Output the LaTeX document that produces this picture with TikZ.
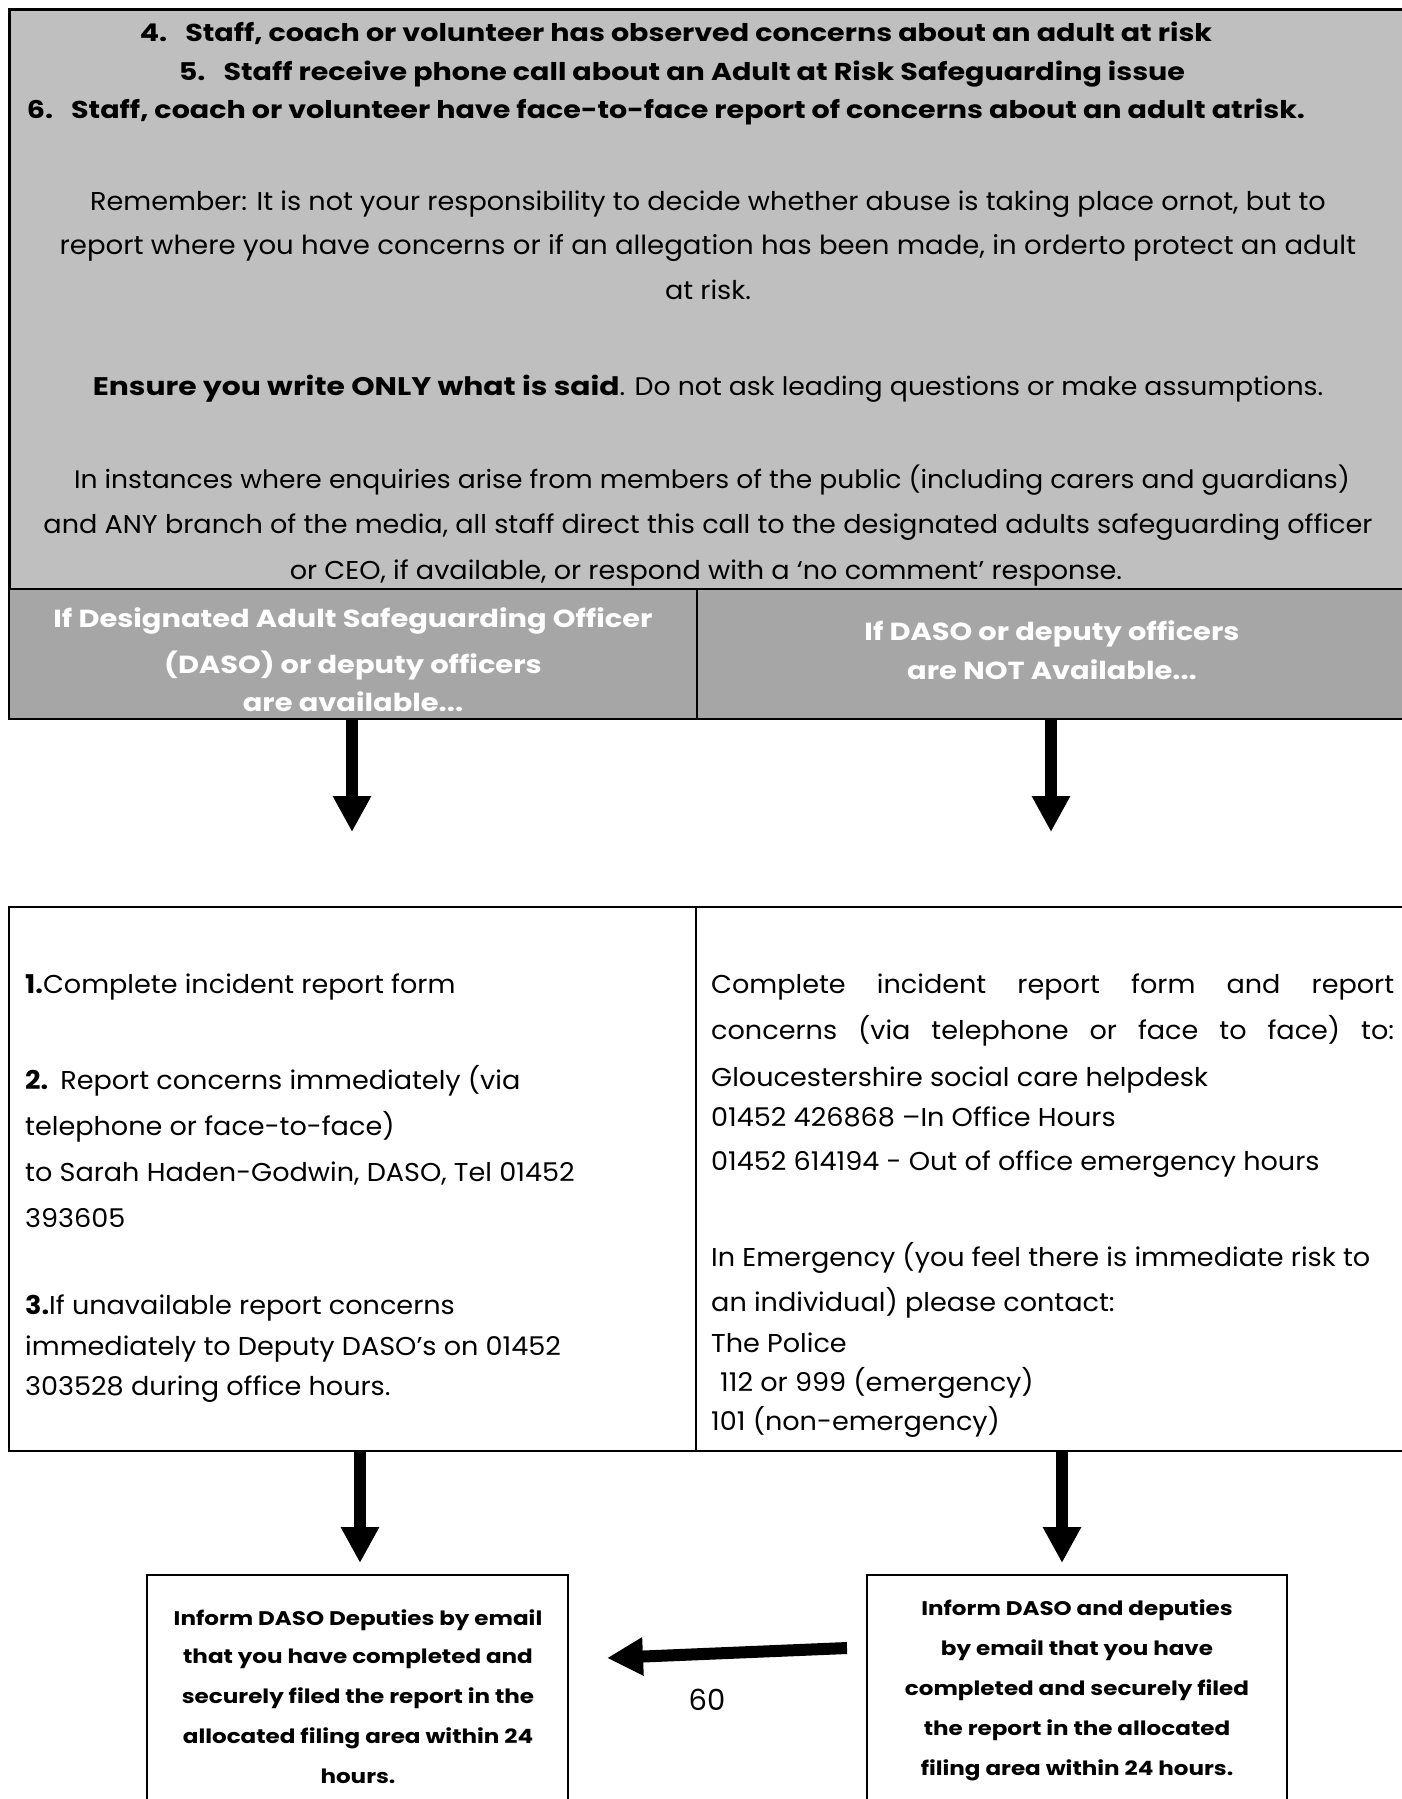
\documentclass[tikz,border=0pt]{standalone}
\usepackage{fontspec}
\setmainfont{Poppins}[FakeStretch=1.05]
\newfontfamily\bfam{Poppins}[FakeStretch=1.17]
\newfontfamily\plainfam{Poppins}
\usetikzlibrary{arrows.meta}
\definecolor{lgray}{RGB}{191,191,191}
\definecolor{dgray}{RGB}{166,166,166}
\begin{document}
\begin{tikzpicture}[x=1pt,y=-1pt,
  box/.style={draw=black, inner sep=0pt, outer sep=0pt, anchor=north west},
  tb/.style={inner sep=0pt, anchor=base, font=\fontsize{24.4}{24.4}\bfam\bfseries},
  tr/.style={inner sep=0pt, anchor=base, font=\fontsize{25.8}{25.8}\selectfont},
  hd/.style={inner sep=0pt, anchor=base, text=white, font=\fontsize{24.7}{24.7}\bfam\bfseries},
  ml/.style={inner sep=0pt, anchor=base west, font=\fontsize{25.8}{25.8}\selectfont},
  bb/.style={inner sep=0pt, anchor=base, font=\fontsize{19.7}{19.7}\bfam\bfseries},
  bigarrow/.style={line width=12pt, -{Triangle[width=36pt,length=36pt]}}
]
\useasboundingbox (0,0) rectangle (1401,1799);
\fill[white] (0,0) rectangle (1401,1799);

% boxes
\node[box, fill=lgray, line width=3pt, minimum width=1400pt, minimum height=580pt] (top) at (9,9) {};
\node[box, fill=dgray, line width=2pt, minimum width=688pt, minimum height=130pt] (hL) at (9,589) {};
\node[box, fill=dgray, line width=2pt, minimum width=712pt, minimum height=130pt] (hR) at (697,589) {};
\node[box, line width=2pt, minimum width=687pt, minimum height=544pt] (mL) at (9,907) {};
\node[box, line width=2pt, minimum width=713pt, minimum height=544pt] (mR) at (696,907) {};
\node[box, line width=1.5pt, minimum width=421pt, minimum height=240pt] (bL) at (147,1575) {};
\node[box, line width=1.5pt, minimum width=420pt, minimum height=240pt] (bR) at (867,1575) {};

% top texts
\node[tb] (t1) at (676,41) {4.\hspace{18pt}Staff, coach or volunteer has observed concerns about an adult at risk};
\node[tb] (t2) at (682,80) {5.\hspace{18pt}Staff receive phone call about an Adult at Risk Safeguarding issue};
\node[tb] (t3) at (666,118) {6.\hspace{18pt}Staff, coach or volunteer have face-to-face report of concerns about an adult atrisk.};
\node[tr] (r1) at (708,210) {Remember: It is not your responsibility to decide whether abuse is taking place ornot, but to};
\node[tr, font=\fontsize{26.25}{26.25}\selectfont] (r2) at (708,254) {report where you have concerns or if an allegation has been made, in orderto protect an adult};
\node[tr] (r3) at (708,299) {at risk.};
\node[tr, font=\fontsize{25.45}{25.45}\selectfont] (e1) at (708,395) {{\bfam\bfseries Ensure you write ONLY what is said}. Do not ask leading questions or make assumptions.};
\node[tr, font=\fontsize{25.3}{25.3}\selectfont] (i1) at (712,488) {In instances where enquiries arise from members of the public (including carers and guardians)};
\node[tr] (i2) at (708,533) {and ANY branch of the media, all staff direct this call to the designated adults safeguarding officer};
\node[tr] (i3) at (706,579) {or CEO, if available, or respond with a ‘no comment’ response.};

% header texts
\node[hd] (h1) at (353,627) {If Designated Adult Safeguarding Officer};
\node[hd] (h2) at (353,673) {(DASO) or deputy officers};
\node[hd] (h3) at (353,711) {are available...};
\node[hd] (h4) at (1052,640) {If DASO or deputy officers};
\node[hd] (h5) at (1052,679) {are NOT Available...};

% middle left
\node[ml] (l1) at (25,993) {\textbf{1.}Complete incident report form};
\node[ml] (l2) at (25,1089) {\textbf{2.}\hspace{12pt}Report concerns immediately (via};
\node[ml] (l3) at (25,1135) {telephone or face-to-face)};
\node[ml] (l4) at (25,1181) {to Sarah Haden-Godwin, DASO, Tel 01452};
\node[ml] (l5) at (25,1227) {393605};
\node[ml] (l6) at (25,1314) {\textbf{3.}If unavailable report concerns};
\node[ml] (l7) at (25,1355) {immediately to Deputy DASO’s on 01452};
\node[ml] (l8) at (25,1395) {303528 during office hours.};

% middle right
\node[ml] (p1) at (711,993) {\makebox[683pt][s]{Complete incident report form and report}};
\node[ml] (p2) at (711,1039) {\makebox[683pt][s]{concerns (via telephone or face to face) to:}};
\node[ml] (p3) at (711,1086) {Gloucestershire social care helpdesk};
\node[ml] (p4) at (711,1126) {01452 426868 –In Office Hours};
\node[ml] (p5) at (711,1170) {01452 614194 - Out of office emergency hours};
\node[ml] (p6) at (711,1266) {In Emergency (you feel there is immediate risk to};
\node[ml] (p7) at (711,1311) {an individual) please contact:};
\node[ml] (p8) at (711,1352) {The Police};
\node[ml] (p9) at (711,1391) {\hspace{9pt}112 or 999 (emergency)};
\node[ml] (p10) at (711,1430) {101 (non-emergency)};

% bottom boxes
\node[bb] (a1) at (358,1625) {Inform DASO Deputies by email};
\node[bb] (a2) at (358,1663) {that you have completed and};
\node[bb] (a3) at (358,1703) {securely filed the report in the};
\node[bb] (a4) at (358,1743) {allocated filing area within 24};
\node[bb] (a5) at (358,1783) {hours.};
\node[bb] (b1) at (1077,1615) {Inform DASO and deputies};
\node[bb] (b2) at (1077,1655) {by email that you have};
\node[bb] (b3) at (1077,1695) {completed and securely filed};
\node[bb] (b4) at (1077,1735) {the report in the allocated};
\node[bb] (b5) at (1077,1775) {filing area within 24 hours.};

\node[inner sep=0pt, anchor=base, font=\fontsize{29}{29}\plainfam] (pg) at (707,1710) {60};

% arrows
\coordinate (tipA) at (352,832);
\coordinate (tipB) at (1051,832);
\coordinate (tipC) at (360,1563);
\coordinate (tipD) at (1062,1563);
\coordinate (startE) at (847,1648);
\coordinate (tipE) at (607,1658);
\draw[bigarrow] (hL.south -| tipA) -- (tipA);
\draw[bigarrow] (hR.south -| tipB) -- (tipB);
\draw[bigarrow] (mL.south -| tipC) -- (tipC);
\draw[bigarrow] (mR.south -| tipD) -- (tipD);
\draw[bigarrow] (startE) -- (tipE);
\end{tikzpicture}
\end{document}
